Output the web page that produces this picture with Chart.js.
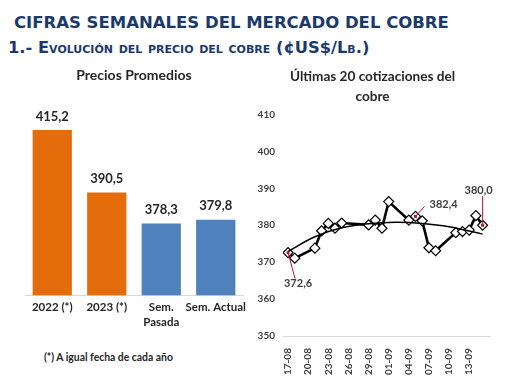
<!DOCTYPE html>
<html>
<head>
<meta charset="utf-8">
<script src="https://cdn.jsdelivr.net/npm/chart.js@4/dist/chart.umd.min.js"></script>
<style>
  html, body { margin: 0; padding: 0; background: #fff; }
  body { width: 510px; height: 382px; position: relative; overflow: hidden; font-family: "DejaVu Sans", sans-serif; }
  #h1 { position: absolute; left: 14px; top: 13px; font-weight: bold; color: #1B3A6B; font-size: 16.5px; white-space: nowrap; }
  #h2 { position: absolute; left: 8px; top: 38px; font-weight: bold; color: #1B3A6B; font-size: 16.3px; font-variant: small-caps; white-space: nowrap; }
  #foot { position: absolute; left: 44px; top: 351px; font-family: Lato, sans-serif; font-weight: bold; font-size: 10.4px; color: #262626; white-space: nowrap; }
  #c1wrap { position: absolute; left: 0; top: 62px; width: 255px; height: 282px; }
  #c2wrap { position: absolute; left: 255px; top: 62px; width: 255px; height: 320px; }
</style>
</head>
<body>
<div id="h1">CIFRAS SEMANALES DEL MERCADO DEL COBRE</div>
<div id="h2">1.- Evolución del precio del cobre (¢US$/Lb.)</div>
<div id="c1wrap"><canvas id="c1" width="255" height="282"></canvas></div>
<div id="c2wrap"><canvas id="c2" width="255" height="320"></canvas></div>
<div id="foot">(*) A igual fecha de cada año</div>
<script>
// ---- Data ----
const barCategories = ['2022 (*)', '2023 (*)', 'Sem. Pasada', 'Sem. Actual'];
const barValues = [415.2, 390.5, 378.3, 379.8];
const barColors = ['#E46C0A', '#E46C0A', '#4F81BD', '#4F81BD'];

const lineDates = ['17-08','18-08','21-08','22-08','23-08','24-08','25-08','29-08','30-08','31-08',
                   '01-09','04-09','05-09','06-09','07-09','08-09','11-09','12-09','13-09','14-09','15-09'];
const lineValues = [372.6, 371.1, 373.8, 378.5, 380.5, 379.2, 380.6, 380.1, 381.4, 379.2,
                    386.4, 381.4, 382.4, 381.2, 373.9, 373.1, 378.0, 378.3, 378.7, 382.6, 380.0];
const trendDates = ['17-08','21-08','25-08','29-08','02-09','06-09','10-09','15-09'];
const trendValues = [372.9, 376.9, 379.3, 380.4, 380.8, 380.5, 379.6, 377.6];
const xTickLabels = ['17-08','20-08','23-08','26-08','29-08','01-09','04-09','07-09','10-09','13-09'];
const annotatedDates = ['17-08', '05-09', '15-09'];

function dayIndex(s) {
  const [d, m] = s.split('-').map(Number);
  return m === 8 ? d - 17 : (31 - 17) + d;
}
const fmt = v => v.toFixed(1).replace('.', ',');

const textColor = '#262626';
const axisColor = '#D9D9D9';

// ---- Left bar chart ----
const barLabelPlugin = {
  id: 'barLabels',
  afterDatasetsDraw(chart) {
    const ctx = chart.ctx;
    const meta = chart.getDatasetMeta(0);
    ctx.save();
    ctx.font = 'bold 13px Lato, sans-serif';
    ctx.fillStyle = textColor;
    ctx.textAlign = 'center';
    ctx.textBaseline = 'bottom';
    meta.data.forEach((bar, i) => {
      ctx.fillText(fmt(chart.data.datasets[0].data[i]), bar.x, bar.y - 7);
    });
    ctx.restore();
  }
};

new Chart(document.getElementById('c1'), {
  type: 'bar',
  data: {
    labels: barCategories.map(c => c === 'Sem. Pasada' ? ['Sem.', 'Pasada'] : c),
    datasets: [{ data: barValues, backgroundColor: barColors, barPercentage: 0.72, categoryPercentage: 1 }]
  },
  options: {
    responsive: false,
    animation: false,
    layout: { padding: { left: 25, right: 12, top: 0, bottom: 10 } },
    plugins: {
      legend: { display: false },
      tooltip: { enabled: false },
      title: { display: true, text: 'Precios Promedios', color: textColor,
               font: { family: 'Lato', size: 14, weight: 'bold' }, padding: { top: 5, bottom: 34 } }
    },
    scales: {
      x: {
        grid: { display: false, drawTicks: false },
        border: { color: axisColor },
        ticks: { autoSkip: false, color: textColor, font: { family: 'Lato', size: 11.5, weight: 'bold', lineHeight: 1.25 },
                 padding: 5, maxRotation: 0, minRotation: 0 }
      },
      y: { display: false, min: 350, max: 420 }
    }
  },
  plugins: [barLabelPlugin]
});

// ---- Right line chart ----
const annotationPlugin = {
  id: 'redNotes',
  afterDatasetsDraw(chart) {
    const ctx = chart.ctx;
    const meta = chart.getDatasetMeta(1);
    const cfg = [
      { dx: 7, dy: 26, tx: 10, ty: 31, align: 'center' },
      { dx: 9, dy: -10, tx: 14, ty: -12, align: 'left' },
      { dx: 0, dy: -29, tx: -4, ty: -35, align: 'center' }
    ];
    ctx.save();
    annotatedDates.forEach((d, k) => {
      const i = lineDates.indexOf(d);
      const p = meta.data[i];
      const c = cfg[k];
      ctx.strokeStyle = '#C0142E';
      ctx.lineWidth = 1;
      ctx.beginPath();
      ctx.moveTo(p.x, p.y);
      ctx.lineTo(p.x + c.dx, p.y + c.dy);
      ctx.stroke();
      ctx.fillStyle = '#C0142E';
      ctx.fillRect(p.x - 1.5, p.y - 1.5, 3, 3);
      ctx.fillStyle = '#404040';
      ctx.font = 'bold 11px Lato, sans-serif';
      ctx.textAlign = c.align;
      ctx.textBaseline = 'middle';
      ctx.fillText(fmt(lineValues[i]), p.x + c.tx, p.y + c.ty);
    });
    ctx.restore();
  }
};

new Chart(document.getElementById('c2'), {
  type: 'line',
  data: {
    datasets: [
      {
        label: 'Tendencia',
        data: trendDates.map((d, i) => ({ x: dayIndex(d), y: trendValues[i] })),
        borderColor: '#000', borderWidth: 1.5, pointRadius: 0, tension: 0.4, fill: false
      },
      {
        label: 'Cotización',
        data: lineDates.map((d, i) => ({ x: dayIndex(d), y: lineValues[i] })),
        borderColor: '#000', borderWidth: 2.6, tension: 0,
        pointStyle: 'rectRot', pointRadius: 5, pointBackgroundColor: '#fff',
        pointBorderColor: '#000', pointBorderWidth: 1.2, fill: false
      }
    ]
  },
  options: {
    responsive: false,
    animation: false,
    layout: { padding: { left: 0, right: 20, top: 0, bottom: 3 } },
    plugins: {
      legend: { display: false },
      tooltip: { enabled: false },
      title: { display: true, text: ['Últimas 20 cotizaciones del', 'cobre'], color: textColor,
               font: { family: 'Lato', size: 13.6, weight: 'bold', lineHeight: 1.45 }, padding: { top: 5, bottom: 8 } }
    },
    scales: {
      x: {
        type: 'linear', min: -0.75, max: 30.1,
        grid: { display: false },
        border: { color: axisColor },
        afterBuildTicks: s => { s.ticks = xTickLabels.map(l => ({ value: dayIndex(l) })); },
        ticks: {
          autoSkip: false, minRotation: 90, maxRotation: 90, padding: 4,
          color: '#404040', font: { family: 'Lato', size: 10, weight: 'bold' },
          callback: v => { const l = xTickLabels.find(t => dayIndex(t) === v); return l || ''; }
        }
      },
      y: {
        min: 350, max: 410,
        grid: { display: false, drawTicks: false },
        border: { display: false },
        afterFit: s => { s.width = 28; },
        ticks: { stepSize: 10, padding: 8, color: '#404040', font: { family: 'Lato', size: 10, weight: 'bold' } }
      }
    }
  },
  plugins: [annotationPlugin]
});
</script>
</body>
</html>
